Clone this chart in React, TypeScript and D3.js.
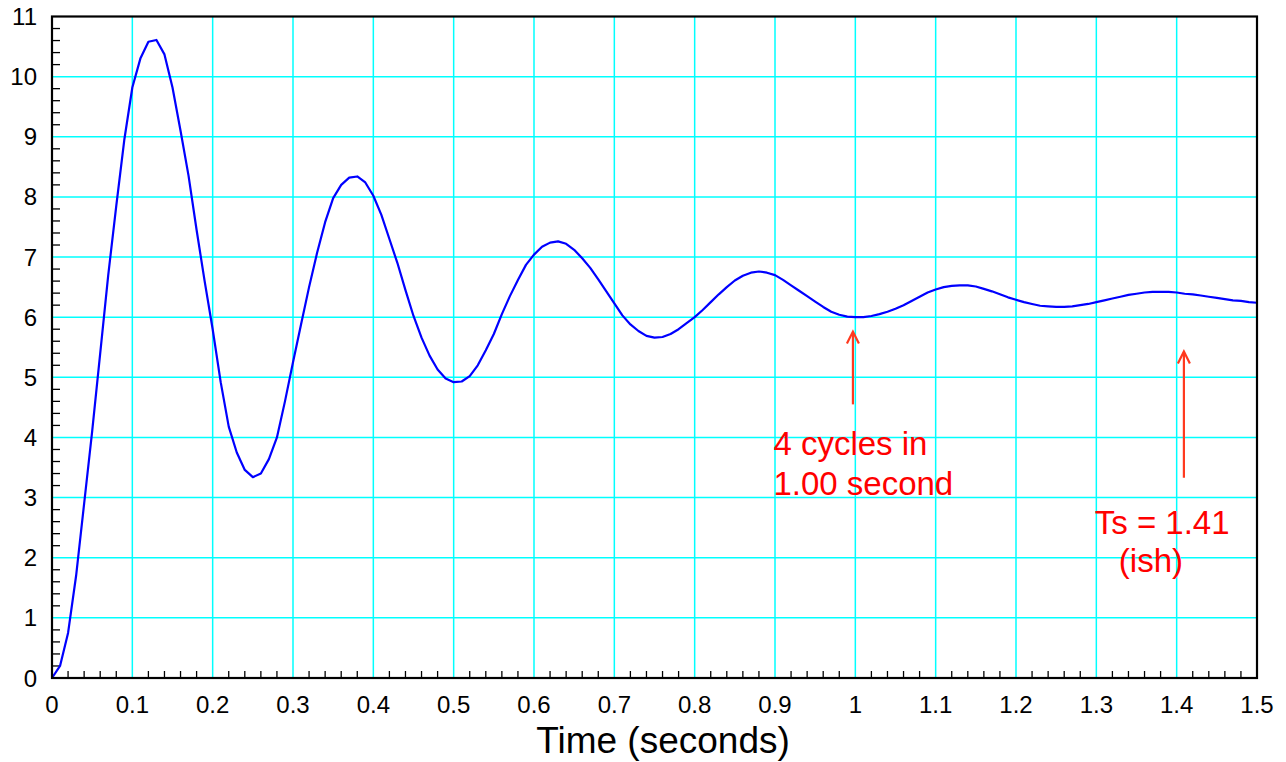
import React from "react";
import * as d3 from "d3";

const TIME_STEP = 0.01;
const responseValues: number[] = [
  0, 0.2, 0.75, 1.7, 2.9, 4.1, 5.4, 6.7, 7.85, 8.95,
  9.82, 10.3, 10.58, 10.61, 10.37, 9.82, 9.1, 8.35, 7.45, 6.6,
  5.8, 4.92, 4.18, 3.75, 3.46, 3.34, 3.4, 3.64, 4.0, 4.6,
  5.25, 5.88, 6.5, 7.07, 7.58, 7.98, 8.2, 8.32, 8.34, 8.24,
  8.02, 7.7, 7.3, 6.9, 6.45, 6.02, 5.66, 5.36, 5.13, 4.98,
  4.92, 4.93, 5.02, 5.2, 5.45, 5.72, 6.05, 6.35, 6.62, 6.87,
  7.04, 7.17, 7.24, 7.26, 7.22, 7.12, 6.98, 6.82, 6.63, 6.43,
  6.23, 6.03, 5.88, 5.77, 5.69, 5.66, 5.67, 5.72, 5.8, 5.9,
  6.0, 6.12, 6.25, 6.38, 6.5, 6.61, 6.69, 6.74, 6.76, 6.74,
  6.7, 6.62, 6.53, 6.44, 6.35, 6.26, 6.17, 6.09, 6.04, 6.01,
  6.0, 6.0, 6.02, 6.05, 6.09, 6.14, 6.2, 6.27, 6.34, 6.41,
  6.46, 6.5, 6.52, 6.53, 6.53, 6.51, 6.47, 6.43, 6.38, 6.33,
  6.29, 6.25, 6.22, 6.19, 6.18, 6.17, 6.17, 6.18, 6.2, 6.22,
  6.25, 6.28, 6.31, 6.34, 6.37, 6.39, 6.41, 6.42, 6.42, 6.42,
  6.41, 6.39, 6.38, 6.36, 6.34, 6.32, 6.3, 6.28, 6.27, 6.25,
  6.24,
];

const xTicks = [0, 0.1, 0.2, 0.3, 0.4, 0.5, 0.6, 0.7, 0.8, 0.9, 1, 1.1, 1.2, 1.3, 1.4, 1.5];
const yTicks = [0, 1, 2, 3, 4, 5, 6, 7, 8, 9, 10, 11];
const xLabel = "Time (seconds)";

// annotations: arrow at time t from value v0 (tail) to v1 (head)
const arrows = [
  { t: 0.997, v0: 4.55, v1: 5.76 },
  { t: 1.409, v0: 3.33, v1: 5.43 },
];
const notes = [
  { t: 0.898, v: 3.7, text: "4 cycles in" },
  { t: 0.898, v: 3.04, text: "1.00 second" },
  { t: 1.298, v: 2.4, text: "Ts = 1.41" },
  { t: 1.328, v: 1.76, text: "(ish)" },
];

const W = 1286;
const H = 762;
const M = { left: 52, right: 29, top: 16.5, bottom: 84 };
const FONT = "'Liberation Sans', Arial, Helvetica, sans-serif";

export default function App() {
  const x = d3.scaleLinear().domain([0, 1.5]).range([M.left, W - M.right]);
  const y = d3.scaleLinear().domain([0, 11]).range([H - M.bottom, M.top]);

  const pts: [number, number][] = responseValues.map((v, i) => [i * TIME_STEP, v]);
  const line = d3
    .line<[number, number]>()
    .x((d) => x(d[0]))
    .y((d) => y(d[1]));

  const xMinor = d3.range(0, 75).map((i) => i * 0.02).filter((t) => Math.abs(t * 10 - Math.round(t * 10)) > 1e-6);
  const yMinor = d3.range(0, 55).map((i) => i * 0.2).filter((v) => Math.abs(v - Math.round(v)) > 1e-6);

  const red = "#ff3a1f";

  return (
    <svg
      width={W}
      height={H}
      style={{ position: "absolute", left: 0, top: 0, background: "#fff" }}
      fontFamily={FONT}
    >
      {/* grid */}
      {xTicks.slice(1, -1).map((t) => (
        <line key={"gx" + t} x1={x(t)} x2={x(t)} y1={y(0)} y2={y(11)} stroke="#00ffff" strokeWidth={1.5} />
      ))}
      {yTicks.slice(1, -1).map((v) => (
        <line key={"gy" + v} x1={x(0)} x2={x(1.5)} y1={y(v)} y2={y(v)} stroke="#00ffff" strokeWidth={1.5} />
      ))}
      {/* minor ticks */}
      {xMinor.map((t) => (
        <line key={"mx" + t} x1={x(t)} x2={x(t)} y1={y(0)} y2={y(0) - 7} stroke="#000" strokeWidth={1.3} />
      ))}
      {yMinor.map((v) => (
        <line key={"my" + v} x1={x(0)} x2={x(0) + 8} y1={y(v)} y2={y(v)} stroke="#000" strokeWidth={1.3} />
      ))}
      {/* curve */}
      <path d={line(pts) || ""} fill="none" stroke="#0000ff" strokeWidth={2.2} strokeLinejoin="round" />
      {/* frame */}
      <rect
        x={x(0)}
        y={y(11)}
        width={x(1.5) - x(0)}
        height={y(0) - y(11)}
        fill="none"
        stroke="#000"
        strokeWidth={2.2}
      />
      {/* tick labels */}
      {xTicks.map((t) => (
        <text key={"xl" + t} x={x(t)} y={y(0) + 35} textAnchor="middle" fontSize={24} fill="#000">
          {String(t)}
        </text>
      ))}
      {yTicks.map((v) => (
        <text key={"yl" + v} x={37} y={y(v) + 8.5} textAnchor="end" fontSize={24} fill="#000">
          {String(v)}
        </text>
      ))}
      <text x={663} y={753} textAnchor="middle" fontSize={37} fill="#000">
        {xLabel}
      </text>
      {/* annotations */}
      {arrows.map((a, i) => {
        const ax = x(a.t);
        const y0 = y(a.v0);
        const y1 = y(a.v1);
        return (
          <g key={"ar" + i} stroke={red} strokeWidth={2.2} fill="none">
            <line x1={ax} x2={ax} y1={y0} y2={y1 + 1} />
            <polyline points={`${ax - 6},${y1 + 12} ${ax},${y1} ${ax + 6},${y1 + 12}`} strokeLinejoin="miter" />
          </g>
        );
      })}
      {notes.map((n, i) => (
        <text key={"n" + i} x={x(n.t)} y={y(n.v)} fontSize={33} fill="#ff0000">
          {n.text}
        </text>
      ))}
    </svg>
  );
}
